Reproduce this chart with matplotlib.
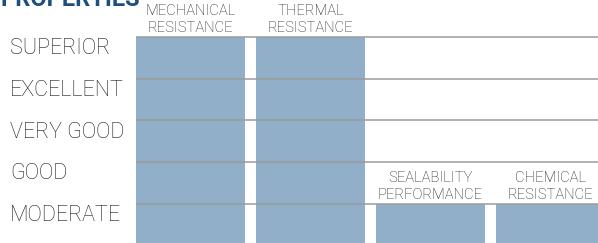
import matplotlib
matplotlib.use("Agg")
import matplotlib.pyplot as plt
import matplotlib.transforms as mtransforms
import numpy as np

# Data
levels = ["MODERATE", "GOOD", "VERY GOOD", "EXCELLENT", "SUPERIOR"]
categories = ["MECHANICAL\nRESISTANCE", "THERMAL\nRESISTANCE",
              "SEALABILITY\nPERFORMANCE", "CHEMICAL\nRESISTANCE"]
scores = [5, 5, 1, 1]  # 1 = MODERATE ... 5 = SUPERIOR
title = "PROPERTIES"

W, H, DPI = 598, 243, 100
fig = plt.figure(figsize=(W / DPI, H / DPI), dpi=DPI)
fig.patch.set_facecolor("white")

ax_left = 136 / W
ax = fig.add_axes([ax_left, 0, 1 - ax_left, 1])
ax.set_axis_off()

pitch = 120.0
px_per_level = 41.75
ax.set_xlim(0, (W - 136) / pitch)
top_val = 5 + 37 / px_per_level
bot_val = 1 - (H - 204) / px_per_level
ax.set_ylim(bot_val, top_val)

bar_color = "#91AFC9"
x = np.arange(len(categories))
ax.bar(x, scores, width=109 / pitch, align="edge", color=bar_color,
       zorder=1, bottom=0)

# grid lines at each level
for i in range(1, len(levels) + 1):
    ax.axhline(i, color="#9b9b9b", lw=1.1, zorder=3)

font = "Roboto"

# column labels above bars
for xi, cat, s in zip(x, categories, scores):
    ax.annotate(cat, xy=(xi + 109 / pitch / 2, s), xytext=(0, 2.5),
                textcoords="offset pixels", ha="center", va="bottom",
                fontsize=10.6, family=font, fontweight="light",
                color="#1e1e1e", linespacing=1.22, zorder=4)

# row labels
trans = mtransforms.blended_transform_factory(fig.transFigure, ax.transData)
for i, lab in enumerate(levels, start=1):
    ax.text(10 / W, i - 0.28, lab, transform=trans, ha="left", va="center",
            fontsize=15.5, family=font, fontweight="light", color="#1a1a1a")

# cut-off title
fig.text(0, 1 - 5.5 / H, title, ha="left", va="baseline", fontsize=17,
         family=font, fontweight="bold", color="#1d4e7e")

fig.savefig("out.png", dpi=DPI, facecolor="white")
